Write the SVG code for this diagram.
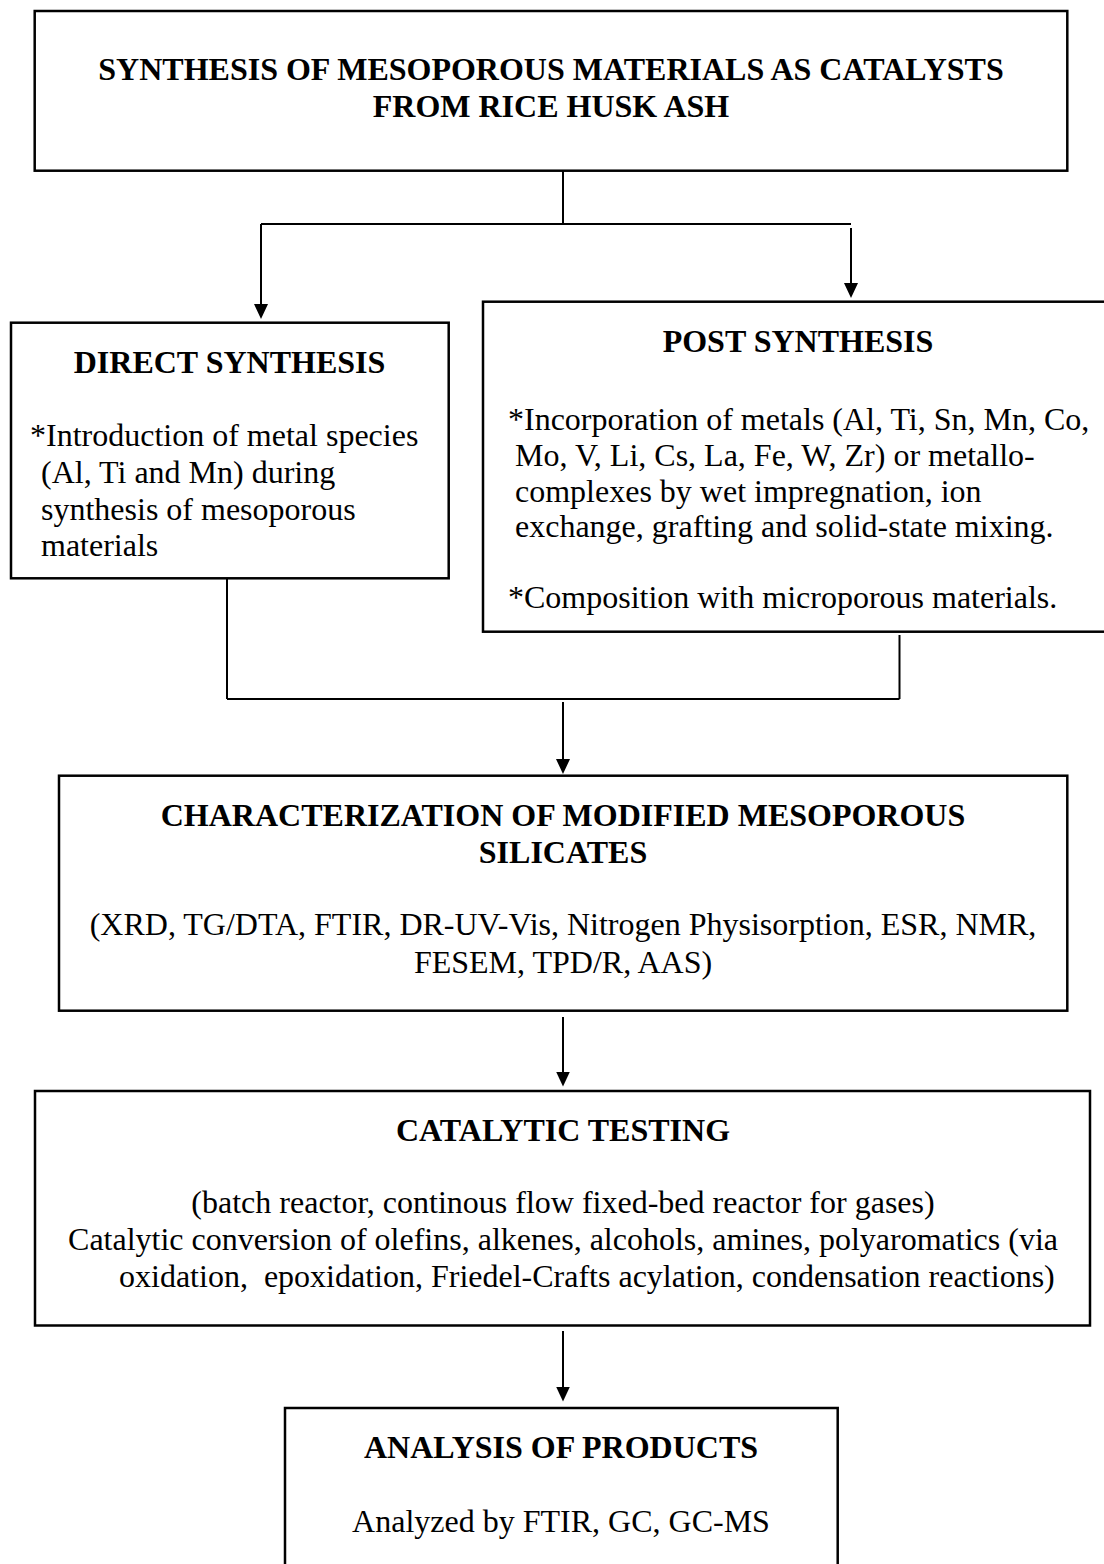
<svg xmlns="http://www.w3.org/2000/svg" width="1104" height="1564" viewBox="0 0 1104 1564">
<style>
.box{fill:#fff;stroke:#000;stroke-width:2.5}
.ln{fill:none;stroke:#000;stroke-width:2}
.t{font-family:"Liberation Serif","Times New Roman",serif;font-size:32px;fill:#000}
.b{font-weight:bold}
.c{text-anchor:middle}
</style>
<defs>
<marker id="ah" viewBox="0 0 15 14" refX="0.5" refY="7" markerWidth="15" markerHeight="14" markerUnits="userSpaceOnUse" orient="auto">
<path d="M0,0 L15,7 L0,14 Z" fill="#000"/>
</marker>
</defs>
<rect width="1104" height="1564" fill="#fff"/>
<g id="connectors">
<line class="ln" x1="563" y1="171" x2="563" y2="224"/>
<line class="ln" x1="261" y1="224" x2="851" y2="224"/>
<path class="ln" d="M261,224 V304.5" marker-end="url(#ah)"/>
<path class="ln" d="M851,228 V283.5" marker-end="url(#ah)"/>
<line class="ln" x1="227" y1="578" x2="227" y2="699"/>
<line class="ln" x1="899.5" y1="635" x2="899.5" y2="699"/>
<line class="ln" x1="227" y1="699" x2="899.5" y2="699"/>
<path class="ln" d="M563,702 V759.5" marker-end="url(#ah)"/>
<path class="ln" d="M563,1017 V1072" marker-end="url(#ah)"/>
<path class="ln" d="M563,1331 V1387" marker-end="url(#ah)"/>
</g>
<g id="node-synthesis">
<rect class="box" x="34.7" y="11" width="1032.6" height="159.7"/>
<text class="t b c" x="551" y="80">SYNTHESIS OF MESOPOROUS MATERIALS AS CATALYSTS</text>
<text class="t b c" x="551" y="117.3">FROM RICE HUSK ASH</text>
</g>
<g id="node-direct">
<rect class="box" x="11" y="322.7" width="437.7" height="255.6"/>
<text class="t b c" x="229.5" y="372.7">DIRECT SYNTHESIS</text>
<text class="t" x="30" y="445.7">*Introduction of metal species</text>
<text class="t" x="41" y="482.7">(Al, Ti and Mn) during</text>
<text class="t" x="41" y="519.5">synthesis of mesoporous</text>
<text class="t" x="41" y="556">materials</text>
</g>
<g id="node-post">
<rect class="box" x="483" y="301.7" width="630" height="330"/>
<text class="t b c" x="798" y="351.7">POST SYNTHESIS</text>
<text class="t" x="508" y="430">*Incorporation of metals (Al, Ti, Sn, Mn, Co,</text>
<text class="t" x="515" y="466">Mo, V, Li, Cs, La, Fe, W, Zr) or metallo-</text>
<text class="t" x="515" y="501.5">complexes by wet impregnation, ion</text>
<text class="t" x="515" y="536.5">exchange, grafting and solid-state mixing.</text>
<text class="t" x="508" y="608">*Composition with microporous materials.</text>
</g>
<g id="node-characterization">
<rect class="box" x="59" y="775.7" width="1008.3" height="235"/>
<text class="t b c" x="563" y="826">CHARACTERIZATION OF MODIFIED MESOPOROUS</text>
<text class="t b c" x="563" y="863.3">SILICATES</text>
<text class="t c" x="563" y="935">(XRD, TG/DTA, FTIR, DR-UV-Vis, Nitrogen Physisorption, ESR, NMR,</text>
<text class="t c" x="563" y="973.3">FESEM, TPD/R, AAS)</text>
</g>
<g id="node-catalytic">
<rect class="box" x="35" y="1091" width="1055" height="234.5"/>
<text class="t b c" x="563" y="1140.7">CATALYTIC TESTING</text>
<text class="t c" x="563" y="1213">(batch reactor, continous flow fixed-bed reactor for gases)</text>
<text class="t c" x="563" y="1250">Catalytic conversion of olefins, alkenes, alcohols, amines, polyaromatics (via</text>
<text class="t" x="119" y="1286.7" xml:space="preserve">oxidation,  epoxidation, Friedel-Crafts acylation, condensation reactions)</text>
</g>
<g id="node-analysis">
<rect class="box" x="285" y="1408" width="552.7" height="170"/>
<text class="t b c" x="561" y="1458">ANALYSIS OF PRODUCTS</text>
<text class="t c" x="561" y="1531.5">Analyzed by FTIR, GC, GC-MS</text>
</g>
</svg>
